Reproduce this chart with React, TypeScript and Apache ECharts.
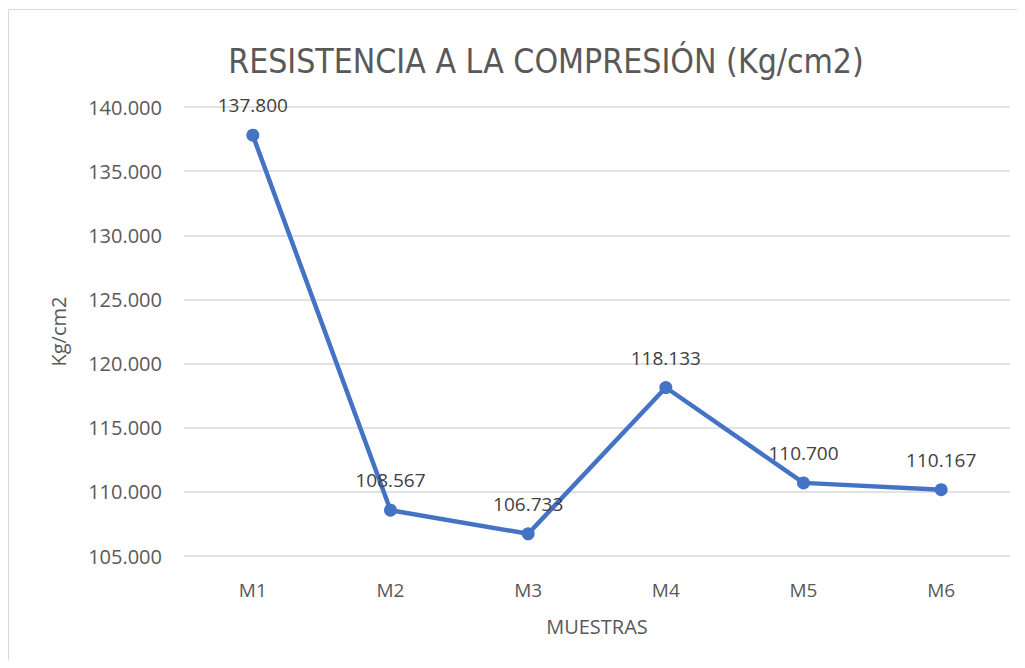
import React, { useEffect, useRef } from "react";
import * as echarts from "echarts";

const categories = ["M1", "M2", "M3", "M4", "M5", "M6"];
const values = [137.8, 108.567, 106.733, 118.133, 110.7, 110.167];
const yMin = 105;
const yMax = 140;
const yStep = 5;

const TXT = "#595959";
const FONT = "'Open Sans', 'Noto Sans', sans-serif";

export default function App() {
  const ref = useRef<HTMLDivElement>(null);
  useEffect(() => {
    if (!ref.current) return;
    const chart = echarts.init(ref.current, undefined, { renderer: "svg" });
    chart.setOption({
      animation: false,
      backgroundColor: "#ffffff",
      title: {
        text: "RESISTENCIA A LA COMPRESIÓN (Kg/cm2)",
        left: 533,
        top: 31,
        textAlign: "center",
        textStyle: {
          color: TXT,
          fontSize: 33.5,
          fontWeight: "normal",
          fontFamily: "'Liberation Sans Narrow', 'DejaVu Sans Condensed', sans-serif",
        },
      },
      grid: { left: 176, right: 7, top: 99, bottom: 104, containLabel: false },
      xAxis: {
        type: "category",
        data: categories,
        name: "MUESTRAS",
        nameLocation: "middle",
        nameGap: 60,
        nameTextStyle: { color: TXT, fontSize: 20, fontFamily: FONT },
        axisLine: { show: false },
        axisTick: { show: false },
        axisLabel: { color: TXT, fontSize: 19, margin: 24, fontFamily: FONT },
      },
      yAxis: {
        type: "value",
        min: yMin,
        max: yMax,
        interval: yStep,
        name: "Kg/cm2",
        nameLocation: "middle",
        nameGap: 116,
        nameTextStyle: { color: TXT, fontSize: 20, fontFamily: FONT },
        axisLine: { show: false },
        axisTick: { show: false },
        splitLine: { lineStyle: { color: "#d9d9d9", width: 1.5 } },
        axisLabel: {
          color: TXT,
          fontSize: 20,
          margin: 22,
          fontFamily: FONT,
          formatter: (v: number) => v.toFixed(3),
        },
      },
      series: [
        {
          type: "line",
          data: values,
          symbol: "circle",
          symbolSize: 13,
          lineStyle: { color: "#4472C4", width: 4.5 },
          itemStyle: { color: "#4472C4" },
          label: {
            show: true,
            position: "top",
            distance: 14,
            color: "#404040",
            fontSize: 19,
            fontFamily: FONT,
            formatter: (p: any) => Number(p.value).toFixed(3),
          },
        },
      ],
      graphic: [
        {
          type: "rect",
          shape: { x: 0.5, y: 1.5, width: 1016, height: 700 },
          style: { fill: "none", stroke: "#d9d9d9", lineWidth: 1 },
          silent: true,
        },
      ],
    });
    return () => chart.dispose();
  }, []);
  return <div ref={ref} style={{ width: 1009, height: 652 }} />;
}
